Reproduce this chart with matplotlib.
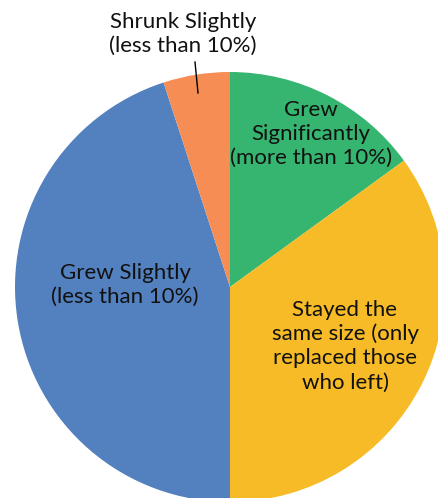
import matplotlib.pyplot as plt

# slices, clockwise from 12 o'clock
labels = ['Grew\nSignificantly\n(more than 10%)',
          'Stayed the\nsame size (only\nreplaced those\nwho left)',
          'Grew Slightly\n(less than 10%)',
          'Shrunk Slightly\n(less than 10%)']
shares = [15, 35, 45, 5]
colors = ['#35B56F', '#F6BB26', '#5380BE', '#F68D55']

W, H = 438, 498
fig = plt.figure(figsize=(W / 100, H / 100), dpi=100)
ax = fig.add_axes([0, 0, 1, 1])

# centre / radius in pixel units (y measured from bottom)
cx, cy, r = 230, H - 287, 215
ax.pie(shares, colors=colors, startangle=90, counterclock=False,
       center=(cx, cy), radius=r, wedgeprops=dict(linewidth=0))

ax.set_xlim(0, W)
ax.set_ylim(0, H)
ax.set_aspect('equal')
ax.axis('off')

font = dict(family=['Lato', 'DejaVu Sans'], fontsize=16, color='#111111',
            ha='center', va='center', linespacing=1.25)

# label positions (pixels from top-left)
pos = [(311, 134), (345, 346), (125, 285), (183, 34)]
for lab, (x, y) in zip(labels, pos):
    ax.text(x, H - y, lab, **font)

# leader line for the small slice
ax.plot([195, 198], [H - 62, H - 93], color='black', lw=1)

fig.savefig('out.png', dpi=100)
